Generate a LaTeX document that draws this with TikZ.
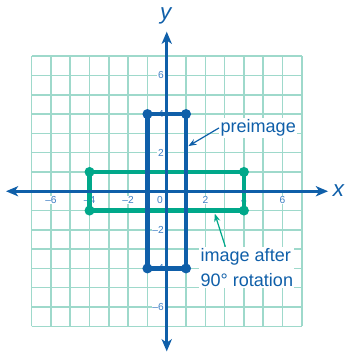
\documentclass[tikz,border=0pt]{standalone}
\usepackage{fontspec}
\setmainfont{Liberation Sans}
\usetikzlibrary{arrows.meta}
\definecolor{gridteal}{HTML}{9ED9CB}
\definecolor{axisblue}{HTML}{0F5FA9}
\definecolor{imggreen}{HTML}{00A88A}
\definecolor{ticklbl}{HTML}{3F7FC4}

\begin{document}
\begin{tikzpicture}[x=0.5cm, y=0.5cm,
    ticklabel/.style={font=\fontsize{7.5}{8}\selectfont, text=ticklbl, fill=white, inner sep=0.6pt},
    vertex/.style={circle, inner sep=0pt, minimum size=7.4pt},
    callout/.style={font=\fontsize{13.3}{18.4}\selectfont, text=axisblue, fill=white, inner sep=1pt, align=left},
    axislabel/.style={font=\fontsize{16.5}{18}\selectfont\itshape, text=axisblue, inner sep=0pt}]
    \useasboundingbox (-8.64,-8.33) rectangle (9.19,9.91);
    % Grid
    \draw[gridteal, line width=1.1pt, step={(1,1)}] (-7,-7) grid (7,7);
    % Tick labels
    \foreach \k/\t [count=\i] in {-6/–6, -4/–4, -2/–2, 2/2, 4/4, 6/6} {
        \node[ticklabel] (xt\i) at (\k,-0.45) {\t};
        \node[ticklabel, anchor=east] (yt\i) at (-0.1,\k) {\t};
    }
    \node[ticklabel] (origin) at (-0.35,-0.45) {0};
    % Image after rotation
    \coordinate (g1) at (-4,1);
    \coordinate (g2) at (4,1);
    \coordinate (g3) at (4,-1);
    \coordinate (g4) at (-4,-1);
    \draw[imggreen, line width=3.1pt] (g1) -- (g2) -- (g3) -- (g4) -- cycle;
    \foreach \i in {1,...,4}
        \node[vertex, fill=imggreen] (gd\i) at (g\i) {};
    % Axes
    \coordinate (xl) at (-8.33,0);
    \coordinate (xr) at (8.36,0);
    \coordinate (yb) at (0,-8.3);
    \coordinate (yt) at (0,8.27);
    \draw[axisblue, line width=1.9pt, {Stealth[length=9pt,width=7.5pt,inset=2.5pt]}-{Stealth[length=9pt,width=7.5pt,inset=2.5pt]}] (xl) -- (xr);
    \draw[axisblue, line width=1.9pt, {Stealth[length=9pt,width=7.5pt,inset=2.5pt]}-{Stealth[length=9pt,width=7.5pt,inset=2.5pt]}] (yb) -- (yt);
    \node[axislabel] (xlab) at (8.9,0.05) {x};
    \node[axislabel] (ylab) at (-0.05,9.1) {y};
    % Preimage
    \coordinate (b1) at (-1,4);
    \coordinate (b2) at (1,4);
    \coordinate (b3) at (1,-4);
    \coordinate (b4) at (-1,-4);
    \draw[axisblue, line width=3.1pt] (b1) -- (b2) -- (b3) -- (b4) -- cycle;
    \foreach \i in {1,...,4}
        \node[vertex, fill=axisblue] (bd\i) at (b\i) {};
    % Labels
    \node[callout] (pre) at (4.74,3.28) {preimage};
    \coordinate (preTip) at (1.12,2.34);
    \draw[axisblue, line width=0.9pt, -{Stealth[length=6pt,width=4.5pt]}] (pre.west) -- (preTip);
    \node[callout] (img) at (4.15,-3.95) {image after\\90° rotation};
    \coordinate (imgTip) at (2.49,-1.16);
    \draw[imggreen, line width=0.9pt, -{Stealth[length=6pt,width=4.5pt]}] (img.136) -- (imgTip);
\end{tikzpicture}
\end{document}
